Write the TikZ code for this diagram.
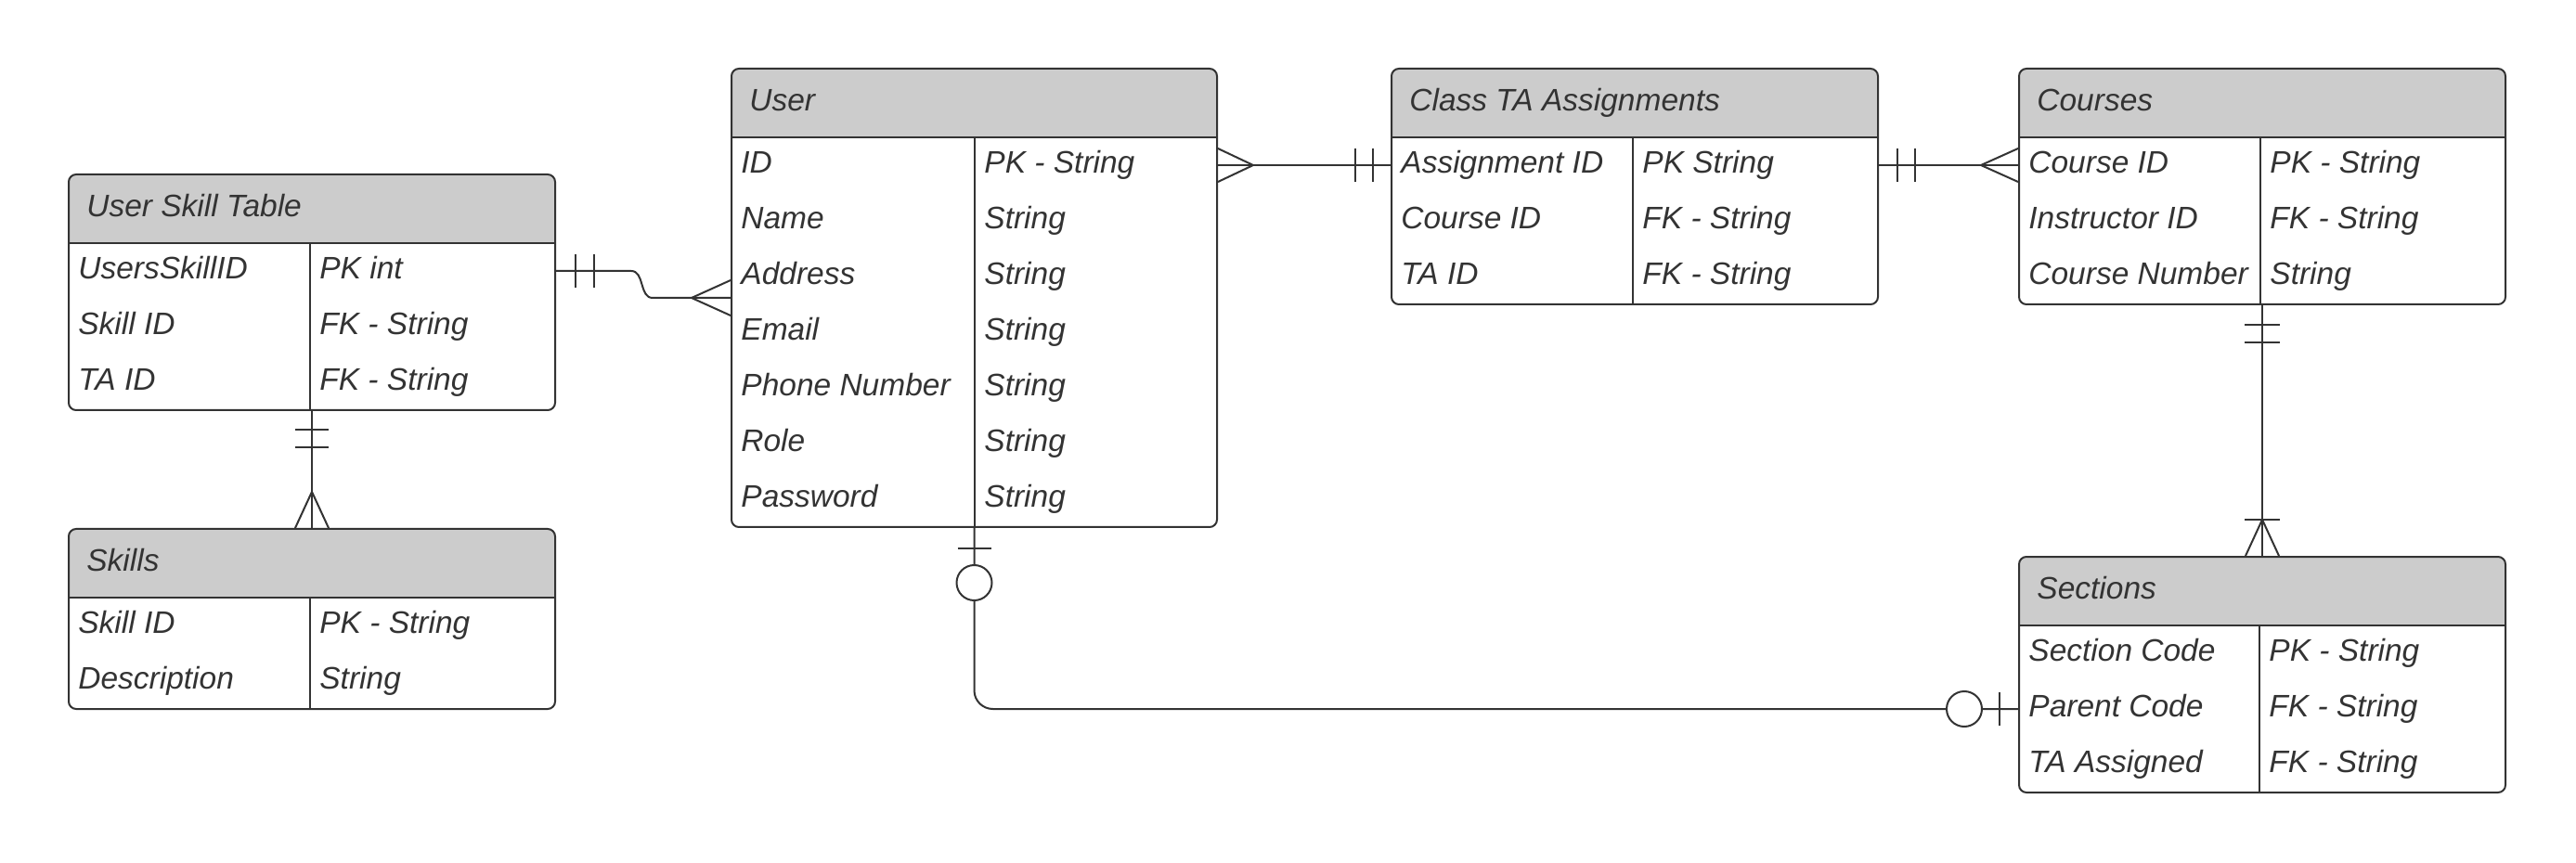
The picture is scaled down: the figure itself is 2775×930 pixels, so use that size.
\documentclass[tikz,border=0pt]{standalone}
\usepackage{fontspec}
\setmainfont{Liberation Sans}
\usetikzlibrary{fit,calc}
\definecolor{ink}{HTML}{333333}
\definecolor{hdr}{HTML}{CCCCCC}
\tikzset{
  tbl/.style={draw=ink, line width=1pt, rounded corners=4pt, inner sep=0pt, rectangle},
  hdrfill/.style={fill=hdr},
  tblline/.style={draw=ink, line width=1pt},
  divline/.style={draw=ink, line width=0.7pt},
  conn/.style={draw=ink, line width=1pt},
  celltext/.style={anchor=west, inner sep=0pt, text=ink,
    font=\fontsize{16.75pt}{20pt}\selectfont\itshape,
    text height=12.1pt, text depth=3.5pt},
}
% #1 name, #2 x0, #3 y0, #4 x1, #5 y1, #6 xdiv, #7 title, #8 rows
\newcommand\ertable[8]{%
  \coordinate (#1-nw) at (#2,#3);
  \coordinate (#1-se) at (#4,#5);
  \begin{scope}
    \clip[rounded corners=4pt] (#1-nw) rectangle (#1-se);
    \fill[hdrfill] (#1-nw) rectangle (#4,#3+74);
  \end{scope}
  \node[tbl, fit=(#1-nw)(#1-se)] (#1) {};
  \draw[tblline] (#2,#3+74) -- (#4,#3+74);
  \draw[divline] (#6,#3+74) -- (#6,#5);
  \node[celltext] (#1-title) at (#2+19,#3+37) {#7};
  \foreach \keyname/\valname [count=\i] in {#8} {
    \node[celltext] (#1-k\i) at (#2+10,#3+74+60*\i-30) {\keyname};
    \node[celltext] (#1-v\i) at (#6+10,#3+74+60*\i-30) {\valname};
  }
}
\begin{document}
\begin{tikzpicture}[x=0.5pt, y=-0.5pt]
\useasboundingbox (0,0) rectangle (2775,930);
\fill[white] (0,0) rectangle (2775,930);

\ertable{ust}{74}{188}{598}{442}{334}{User Skill Table}{UsersSkillID/PK int, Skill ID/FK - String, TA ID/FK - String}
\ertable{skills}{74}{570}{598}{764}{334}{Skills}{Skill ID/PK - String, Description/String}
\ertable{user}{788}{74}{1311}{568}{1050}{User}{ID/PK - String, Name/String, Address/String, Email/String, Phone Number/String, Role/String, Password/String}
\ertable{cta}{1499}{74}{2023}{328}{1759}{Class TA Assignments}{Assignment ID/PK String, Course ID/FK - String, TA ID/FK - String}
\ertable{courses}{2175}{74}{2699}{328}{2435}{Courses}{Course ID/PK - String, Instructor ID/FK - String, Course Number/String}
\ertable{sections}{2175}{600}{2699}{854}{2434}{Sections}{Section Code/PK - String, Parent Code/FK - String, TA Assigned/FK - String}

% 1 User Skill Table -- User
\draw[conn] (ust.east |- ust-k1) -- (680,292) to[out=0,in=180] (703,321) -- (user.west);
\draw[conn] (ust.east |- ust-k1) ++(21,-18) -- ++(0,36);
\draw[conn] (ust.east |- ust-k1) ++(41,-18) -- ++(0,36);
\draw[conn] (user.west) ++(0,-19) -- ++(-42,19) -- ++(42,19);

% 2 User Skill Table -- Skills
\draw[conn] (ust.south) -- (skills.north);
\draw[conn] (ust.south) ++(-18,20) -- ++(36,0);
\draw[conn] (ust.south) ++(-18,39) -- ++(36,0);
\draw[conn] (skills.north) ++(-18,0) -- ++(18,-39) -- ++(18,39);

% 3 User -- Class TA Assignments
\draw[conn] (user.east |- user-k1) -- (cta.west |- cta-k1);
\draw[conn] (user.east |- user-k1) ++(0,-18) -- ++(38,18) -- ++(-38,18);
\draw[conn] (cta.west |- cta-k1) ++(-38,-18) -- ++(0,36);
\draw[conn] (cta.west |- cta-k1) ++(-19,-18) -- ++(0,36);

% 4 Class TA Assignments -- Courses
\draw[conn] (cta.east |- cta-k1) -- (courses.west |- courses-k1);
\draw[conn] (cta.east |- cta-k1) ++(20,-18) -- ++(0,36);
\draw[conn] (cta.east |- cta-k1) ++(39,-18) -- ++(0,36);
\draw[conn] (courses.west |- courses-k1) ++(0,-18) -- ++(-40,18) -- ++(40,18);

% 5 Courses -- Sections
\draw[conn] (courses.south) -- (sections.north);
\draw[conn] (courses.south) ++(-19,21) -- ++(38,0);
\draw[conn] (courses.south) ++(-19,40) -- ++(38,0);
\draw[conn] (sections.north) ++(-19,-39) -- ++(38,0);
\draw[conn] (sections.north) ++(-18,0) -- ++(18,-39) -- ++(18,39);

% 6 User -- Sections
\draw[conn, rounded corners=10pt] (user.south) |- (sections.west |- sections-k2);
\draw[conn] (user.south) ++(-18,22) -- ++(36,0);
\draw[conn, fill=white] (user.south) ++(0,59) circle[radius=9.5pt];
\draw[conn] (sections.west |- sections-k2) ++(-20,-18) -- ++(0,36);
\draw[conn, fill=white] (sections.west |- sections-k2) ++(-58,0) circle[radius=9.5pt];
\end{tikzpicture}
\end{document}
